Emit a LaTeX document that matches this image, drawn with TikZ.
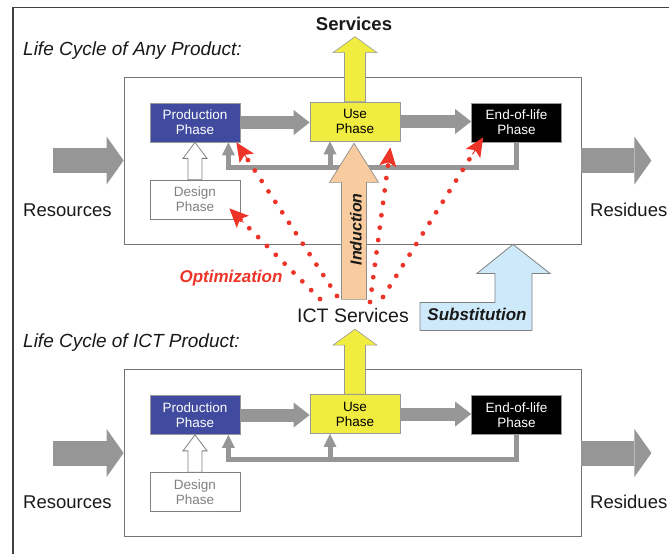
\documentclass[tikz,border=0pt]{standalone}
\usepackage{fontspec}
\setmainfont{Liberation Sans}
\usetikzlibrary{positioning,arrows.meta,calc}

\definecolor{prodblue}{RGB}{64,74,158}
\definecolor{useyellow}{RGB}{240,236,64}
\definecolor{flowgray}{RGB}{150,150,150}
\definecolor{peach}{RGB}{248,204,158}
\definecolor{skyblue}{RGB}{206,234,250}
\definecolor{dotred}{RGB}{238,52,40}

\tikzset{
  phase/.style={draw=black!40, line width=0.7pt, minimum width=90pt, minimum height=39pt, inner sep=0pt, align=center, font=\fontsize{13.5}{15}\selectfont},
  flow/.style={draw=flowgray, line width=13pt, -{Triangle[length=16pt,width=25pt,line width=0pt]}},
  bigflow/.style={draw=flowgray, line width=25pt, -{Triangle[length=17pt,width=48pt,line width=0pt]}},
  fbtip/.style={draw=flowgray, line width=5pt, -{Triangle[length=13pt,width=13pt,line width=0pt]}},
  optim/.style={dotred, line width=4.8pt, line cap=round, dash pattern=on 0pt off 12.5pt, shorten >=10pt},
  optimtip/.style={dotred, line width=1pt, -{Stealth[length=19pt,width=17pt,inset=4pt]}},
  big/.style={font=\fontsize{18.5}{22}\selectfont, inner sep=0pt, text=black!90},
  keyword/.style={font=\fontsize{17}{20}\selectfont\bfseries\itshape, inner sep=0pt, text=black!90}
}

\begin{document}
\begin{tikzpicture}[x=1pt,y=-1pt]
  \useasboundingbox (0,0) rectangle (669,554);

  % the two life cycles
  \foreach \k/\dy/\what in {a/0/Any, b/292.5/ICT}{
    \node[draw=black!55, line width=0.8pt, minimum width=457pt, minimum height=167pt, inner sep=0pt] (lc\k) at (352.5,160.5+\dy) {};
    \node[big, font=\fontsize{19}{22}\selectfont\itshape, anchor=base west] (title\k) at (23,55+\dy) {Life Cycle of \what\ Product:};
    \draw[bigflow] ($(lc\k.west)+(-71,0)$) -- (lc\k.west);
    \draw[bigflow] (lc\k.east) -- ++(70,0);
    \node[big, anchor=base west] (res\k) at (23,216+\dy) {Resources};
    \node[big, anchor=base west] (resid\k) at (590,216+\dy) {Residues};

    \node[phase, fill=prodblue, text=white] (prod\k) at (195,122.5+\dy) {Production\\Phase};
    \node[phase, fill=useyellow] (use\k) at (355,121.5+\dy) {Use\\Phase};
    \node[phase, fill=black, text=white] (end\k) at (516.5,122.5+\dy) {End-of-life\\Phase};
    \node[phase, draw=black!50, fill=white, text=black!50] (design\k) at (195,199.5+\dy) {Design\\Phase};

    \draw[flow] (prod\k.east) -- (prod\k.east -| use\k.west);
    \draw[flow] (use\k.east) -- (use\k.east -| end\k.west);
    \draw[fbtip] (end\k.south) |- ($(prod\k.south east)+(-12,25)$) -- ($(prod\k.south east)+(-12,0)$);
    \draw[fbtip] ($(use\k.south)+(-25,28)$) -- ($(use\k.south)+(-25,0)$);

    \filldraw[fill=white, draw=black!50, line width=0.8pt] (prod\k.south) -- ++(12,16) -- ++(-5,0) -- ($(design\k.north)+(7,0)$) -- ++(-14,0) -- ($(prod\k.south)+(-7,16)$) -- ++(-5,0) -- cycle;
    \filldraw[fill=useyellow, draw=black!40, line width=0.6pt] ($(use\k.north)+(-10.5,0)$) -- ++(0,-49) -- ++(-11.5,0) -- ++(22,-16) -- ++(22,16) -- ++(-11.5,0) -- ++(0,49) -- cycle;
  }

  \node[big, font=\fontsize{18.5}{22}\selectfont\bfseries, anchor=base] (services) at (354,30) {Services};
  \node[big, font=\fontsize{19.5}{23}\selectfont, anchor=base] (ict) at (353,322) {ICT Services};

  % induction
  \filldraw[fill=peach, draw=black!45, line width=0.7pt] ($(usea.south)+(-1,2)$) -- ++(24.5,39) -- ++(-12,0) -- ++(0,117) -- ++(-25,0) -- ++(0,-117) -- ++(-12,0) -- cycle;
  \node[keyword, font=\fontsize{16}{19}\selectfont\bfseries\itshape, rotate=90] (induct) at ($(usea.south)+(1,88)$) {Induction};

  % substitution
  \filldraw[fill=skyblue, draw=black!50, line width=0.8pt] ($(lca.south)+(160.5,0)$) -- ++(37,29) -- ++(-18,0) -- ++(0,57) -- ++(-112,0) -- ++(0,-28) -- ++(75,0) -- ++(0,-29) -- ++(-18,0) -- cycle;
  \node[keyword, anchor=base] (subst) at (477,320) {Substitution};

  % optimization
  \coordinate (o1) at ($(ict.base)+(-33,-23)$);
  \coordinate (o2) at ($(ict.base)+(-16,-26)$);
  \coordinate (o3) at ($(ict.base)+(17,-20)$);
  \coordinate (o4) at ($(ict.base)+(30,-25)$);
  \coordinate (t1) at ($(designa.south east)+(-11,-11)$);
  \coordinate (t2) at ($(proda.south east)+(-4,0)$);
  \coordinate (t3) at ($(usea.south east)+(-10,6)$);
  \coordinate (t4) at ($(enda.south west)+(12,-5)$);
  \foreach \i in {1,...,4}{
    \draw[optim] (o\i) -- (t\i);
    \draw[optimtip] ($(t\i)!20pt!(o\i)$) -- (t\i);
  }
  \node[keyword, text=dotred, anchor=base] (optlabel) at (231,282) {Optimization};

  \draw[line width=1.4pt, black!75] (13,554) -- (13,7.5) -- (669,7.5);
\end{tikzpicture}
\end{document}
